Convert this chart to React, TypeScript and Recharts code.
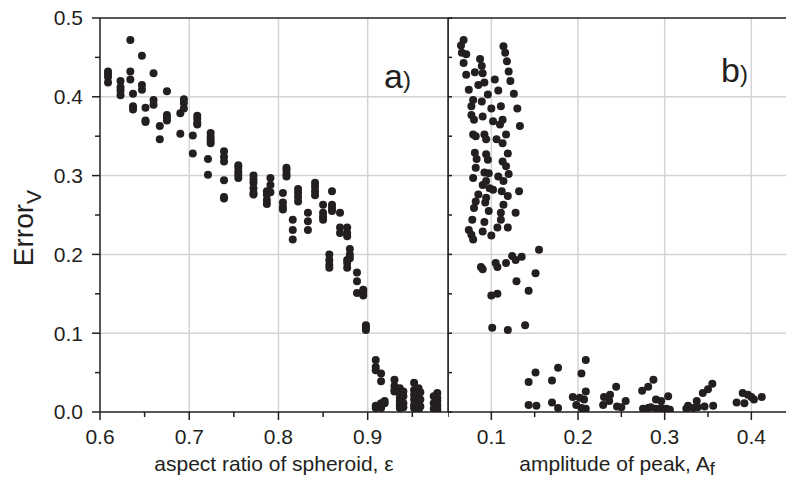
import { ScatterChart, Scatter, XAxis, YAxis, ReferenceLine, Label } from 'recharts'

// panel a) columns of aspect ratio and the errors measured at each
const epsilon = [
  0.609, 0.623, 0.634, 0.637, 0.647, 0.651, 0.66, 0.667, 0.675, 0.69, 0.694, 0.704, 0.709,
  0.721, 0.724, 0.739, 0.755, 0.772, 0.787, 0.791, 0.805, 0.809, 0.816, 0.822, 0.833, 0.841,
  0.85, 0.857, 0.86, 0.869, 0.877, 0.88, 0.888, 0.895, 0.898, 0.909, 0.915, 0.919, 0.93,
  0.936, 0.94, 0.952, 0.957, 0.959, 0.974, 0.978,
]
const errorA = [
  [0.432, 0.429, 0.425, 0.418], [0.42, 0.412, 0.408, 0.402], [0.472, 0.432, 0.422],
  [0.404, 0.388, 0.384], [0.452, 0.415, 0.409], [0.386, 0.37, 0.368], [0.43, 0.396, 0.39],
  [0.363, 0.346], [0.407, 0.377, 0.373, 0.37], [0.379, 0.353], [0.397, 0.392, 0.385],
  [0.351, 0.328], [0.376, 0.372, 0.367, 0.365], [0.321, 0.301], [0.354, 0.349, 0.345, 0.341],
  [0.331, 0.324, 0.318, 0.294, 0.273, 0.271], [0.313, 0.31, 0.305, 0.301, 0.297],
  [0.3, 0.295, 0.291, 0.284, 0.278, 0.276], [0.28, 0.276, 0.269, 0.264], [0.297, 0.288, 0.279],
  [0.278, 0.266, 0.26, 0.257], [0.31, 0.307, 0.302, 0.299], [0.244, 0.231, 0.219],
  [0.283, 0.278, 0.273, 0.267], [0.253, 0.242, 0.231], [0.291, 0.286, 0.28, 0.275],
  [0.263, 0.253, 0.248, 0.244], [0.2, 0.193, 0.187, 0.183], [0.28, 0.263, 0.259, 0.255],
  [0.253, 0.234, 0.227], [0.234, 0.227, 0.223, 0.193, 0.189, 0.183], [0.207, 0.2, 0.195],
  [0.177, 0.166, 0.151], [0.155, 0.152, 0.148], [0.11, 0.107, 0.104],
  [0.066, 0.057, 0.053, 0.008, 0.005], [0.049, 0.039, 0.011, 0.009, 0.005], [0.014, 0.011],
  [0.041, 0.033, 0.028, 0.026], [0.03, 0.024, 0.018, 0.014, 0.009, 0.005],
  [0.026, 0.02, 0.011, 0.006], [0.037, 0.028, 0.022, 0.016, 0.009, 0.005],
  [0.03, 0.024, 0.018, 0.011, 0.005, 0.002], [0.025, 0.016, 0.007], [0.02, 0.011, 0.004],
  [0.024, 0.018, 0.014, 0.009, 0.005, 0.002],
]

// panel b) amplitude of peak vs error
const amplitude = [
  0.068, 0.065, 0.066, 0.071, 0.068, 0.087, 0.089, 0.071, 0.081, 0.09, 0.085, 0.092, 0.104,
  0.074, 0.096, 0.108, 0.079, 0.089, 0.077, 0.1, 0.111, 0.077, 0.09, 0.08, 0.102, 0.113,
  0.11, 0.079, 0.082, 0.092, 0.094, 0.106, 0.117, 0.113, 0.081, 0.094, 0.083, 0.096, 0.119,
  0.113, 0.082, 0.117, 0.079, 0.092, 0.097, 0.108, 0.12, 0.094, 0.114, 0.09, 0.098, 0.102,
  0.112, 0.119, 0.132, 0.085, 0.082, 0.094, 0.114, 0.08, 0.093, 0.111, 0.097, 0.128, 0.078,
  0.092, 0.111, 0.074, 0.09, 0.107, 0.119, 0.1, 0.079, 0.077,
  0.114, 0.116, 0.118, 0.12, 0.122, 0.126, 0.13, 0.133,
  0.088, 0.09, 0.105, 0.107, 0.117, 0.124, 0.128, 0.135, 0.155, 0.151, 0.129, 0.143, 0.1,
  0.107, 0.101, 0.119, 0.139,
  0.143, 0.151, 0.143, 0.152, 0.17, 0.177, 0.17, 0.177, 0.194, 0.204, 0.209, 0.209, 0.198,
  0.202, 0.204, 0.207, 0.209, 0.23, 0.237, 0.244, 0.229, 0.236, 0.245, 0.25, 0.255, 0.274,
  0.281, 0.287, 0.29, 0.296, 0.304, 0.275, 0.281, 0.284, 0.29, 0.296, 0.302, 0.306, 0.325,
  0.327, 0.337, 0.333, 0.338, 0.344, 0.35, 0.355, 0.346, 0.356, 0.383, 0.39, 0.392, 0.396,
  0.4, 0.403, 0.412,
]
const errorB = [
  0.472, 0.465, 0.456, 0.454, 0.443, 0.448, 0.439, 0.428, 0.431, 0.43, 0.415, 0.418, 0.422,
  0.409, 0.403, 0.408, 0.396, 0.394, 0.388, 0.385, 0.388, 0.377, 0.375, 0.371, 0.369, 0.371,
  0.365, 0.352, 0.35, 0.352, 0.346, 0.346, 0.352, 0.341, 0.329, 0.327, 0.321, 0.32, 0.328,
  0.318, 0.31, 0.312, 0.297, 0.304, 0.303, 0.299, 0.302, 0.293, 0.293, 0.288, 0.284, 0.282,
  0.28, 0.274, 0.28, 0.276, 0.267, 0.272, 0.263, 0.259, 0.266, 0.253, 0.255, 0.253, 0.244,
  0.241, 0.244, 0.231, 0.229, 0.234, 0.234, 0.224, 0.219, 0.225,
  0.464, 0.456, 0.445, 0.432, 0.42, 0.404, 0.385, 0.363,
  0.184, 0.181, 0.189, 0.184, 0.189, 0.198, 0.193, 0.197, 0.206, 0.176, 0.166, 0.154, 0.148,
  0.15, 0.107, 0.104, 0.11,
  0.038, 0.05, 0.009, 0.008, 0.04, 0.056, 0.012, 0.005, 0.019, 0.049, 0.066, 0.026, 0.009,
  0.018, 0.005, 0.016, 0.004, 0.019, 0.022, 0.032, 0.009, 0.014, 0.007, 0.006, 0.014, 0.027,
  0.032, 0.041, 0.016, 0.014, 0.02, 0.004, 0.005, 0.006, 0.004, 0.005, 0.004, 0.003, 0.004,
  0.008, 0.014, 0.005, 0.006, 0.024, 0.029, 0.036, 0.007, 0.008, 0.012, 0.024, 0.011, 0.022,
  0.019, 0.016, 0.019,
]

const yTicks = [0, 0.05, 0.1, 0.15, 0.2, 0.25, 0.3, 0.35, 0.4, 0.45, 0.5]
const yGrid = [0.1, 0.2, 0.3, 0.4]
const epsTicks = [0.6, 0.65, 0.7, 0.75, 0.8, 0.85, 0.9, 0.95]
const epsGrid = [0.7, 0.8, 0.9]
const ampTicks = [0.05, 0.1, 0.15, 0.2, 0.25, 0.3, 0.35, 0.4]
const ampGrid = [0.1, 0.2, 0.3, 0.4]

const dataA = epsilon.flatMap((e, i) => errorA[i].map((v) => ({ x: e, y: v })))
const dataB = amplitude.map((a, i) => ({ x: a, y: errorB[i] }))

const INK = '#231f20'
const GRID = '#d4d4d4'
const FONT = '"Liberation Sans", Arial, sans-serif'
const TICK = 8
const MARGIN = 9

const isMajor = (v: number) => Math.abs(v * 10 - Math.round(v * 10)) < 1e-6

function Dot(p: any) {
  return <circle cx={p.cx} cy={p.cy} r={4} fill={INK} />
}

function BottomTick(p: any) {
  const v = p.payload.value
  const axisY = p.y - TICK - MARGIN
  const major = isMajor(v)
  return (
    <g>
      <line x1={p.x} x2={p.x} y1={axisY} y2={axisY + (major ? TICK : 5)} stroke={INK} strokeWidth={1.5} />
      {major && (
        <text x={p.x} y={p.y} dy="0.71em" textAnchor="middle" fontSize={21} fill={INK} fontFamily={FONT}>
          {v.toFixed(1)}
        </text>
      )}
    </g>
  )
}

function LeftTick(p: any) {
  const v = p.payload.value
  const axisX = p.x + TICK + MARGIN
  const major = isMajor(v)
  return (
    <g>
      <line x1={axisX} x2={axisX - (major ? TICK : 5)} y1={p.y} y2={p.y} stroke={INK} strokeWidth={1.5} />
      {major && (
        <text x={p.x} y={p.y} dy="0.355em" textAnchor="end" fontSize={21} fill={INK} fontFamily={FONT}>
          {v.toFixed(1)}
        </text>
      )}
    </g>
  )
}

function XTitle({ viewBox, main, sub }: any) {
  const cx = viewBox.x + viewBox.width / 2
  return (
    <text x={cx} y={viewBox.y + 59} textAnchor="middle" fontSize={21} fill={INK} fontFamily={FONT}>
      {main}
      {sub && <tspan fontSize={18} dy={4}>{sub}</tspan>}
    </text>
  )
}

function YTitle({ viewBox }: any) {
  const x = viewBox.x + 33
  const y = viewBox.y + 210
  return (
    <text x={x} y={y} transform={`rotate(-90, ${x}, ${y})`} textAnchor="middle" fontSize={28} fill={INK} fontFamily={FONT}>
      Error
      <tspan fontSize={21} dy={8}>V</tspan>
    </text>
  )
}

const margin = { top: 18, right: 0, bottom: 0, left: 0 }

export default function App() {
  return (
    <div style={{ position: 'absolute', left: 0, top: 0, width: 786, height: 479, background: '#fff', fontFamily: FONT }}>
      <div style={{ position: 'absolute', left: 0, top: 0 }}>
        <ScatterChart width={449} height={479} margin={{ ...margin, right: 1 }}>
          <XAxis
            type="number"
            dataKey="x"
            domain={[0.6, 0.99]}
            ticks={epsTicks}
            interval={0}
            allowDataOverflow
            height={67}
            tickSize={TICK}
            tickMargin={MARGIN}
            tickLine={false}
            tick={<BottomTick />}
            axisLine={{ stroke: INK, strokeWidth: 1.5 }}
          >
            <Label content={(p: any) => <XTitle viewBox={p.viewBox} main="aspect ratio of spheroid, ε" />} />
          </XAxis>
          <YAxis
            type="number"
            dataKey="y"
            domain={[0, 0.5]}
            ticks={yTicks}
            interval={0}
            allowDataOverflow
            width={100}
            tickSize={TICK}
            tickMargin={MARGIN}
            tickLine={false}
            tick={<LeftTick />}
            axisLine={{ stroke: INK, strokeWidth: 1.5 }}
          >
            <Label content={(p: any) => <YTitle viewBox={p.viewBox} />} />
          </YAxis>
          <YAxis
            yAxisId="r"
            orientation="right"
            mirror
            type="number"
            domain={[0, 0.5]}
            ticks={yTicks}
            interval={0}
            tickSize={4}
            tickFormatter={() => ''}
            tickLine={{ stroke: INK, strokeWidth: 1.5 }}
            axisLine={{ stroke: INK, strokeWidth: 1.5 }}
          />
          {yGrid.map((v) => (
            <ReferenceLine key={'ya' + v} y={v} stroke={GRID} strokeWidth={1.5} />
          ))}
          {epsGrid.map((v) => (
            <ReferenceLine key={'xa' + v} x={v} stroke={GRID} strokeWidth={1.5} />
          ))}
          <ReferenceLine y={0.5} stroke={INK} strokeWidth={1.5} />
          <Scatter data={dataA} shape={<Dot />} isAnimationActive={false} />
        </ScatterChart>
      </div>
      <div style={{ position: 'absolute', left: 448, top: 0 }}>
        <ScatterChart width={338} height={479} margin={margin}>
          <XAxis
            type="number"
            dataKey="x"
            domain={[0.05, 0.44]}
            ticks={ampTicks}
            interval={0}
            allowDataOverflow
            height={67}
            tickSize={TICK}
            tickMargin={MARGIN}
            tickLine={false}
            tick={<BottomTick />}
            axisLine={{ stroke: INK, strokeWidth: 1.5 }}
          >
            <Label content={(p: any) => <XTitle viewBox={p.viewBox} main="amplitude of peak, A" sub="f" />} />
          </XAxis>
          <YAxis
            type="number"
            dataKey="y"
            domain={[0, 0.5]}
            ticks={yTicks}
            interval={0}
            allowDataOverflow
            mirror
            tickSize={4}
            tickFormatter={() => ''}
            tickLine={{ stroke: INK, strokeWidth: 1.5 }}
            axisLine={{ stroke: INK, strokeWidth: 1.5 }}
          />
          {yGrid.map((v) => (
            <ReferenceLine key={'yb' + v} y={v} stroke={GRID} strokeWidth={1.5} />
          ))}
          {ampGrid.map((v) => (
            <ReferenceLine key={'xb' + v} x={v} stroke={GRID} strokeWidth={1.5} />
          ))}
          <ReferenceLine y={0.5} stroke={INK} strokeWidth={1.5} />
          <Scatter data={dataB} shape={<Dot />} isAnimationActive={false} />
        </ScatterChart>
      </div>
      <div style={{ position: 'absolute', left: 384, top: 56, color: INK, fontSize: 34, lineHeight: '40px' }}>
        a<span style={{ fontSize: 24 }}>)</span>
      </div>
      <div style={{ position: 'absolute', left: 721, top: 50, color: INK, fontSize: 34, lineHeight: '40px' }}>
        b<span style={{ fontSize: 24 }}>)</span>
      </div>
    </div>
  )
}
